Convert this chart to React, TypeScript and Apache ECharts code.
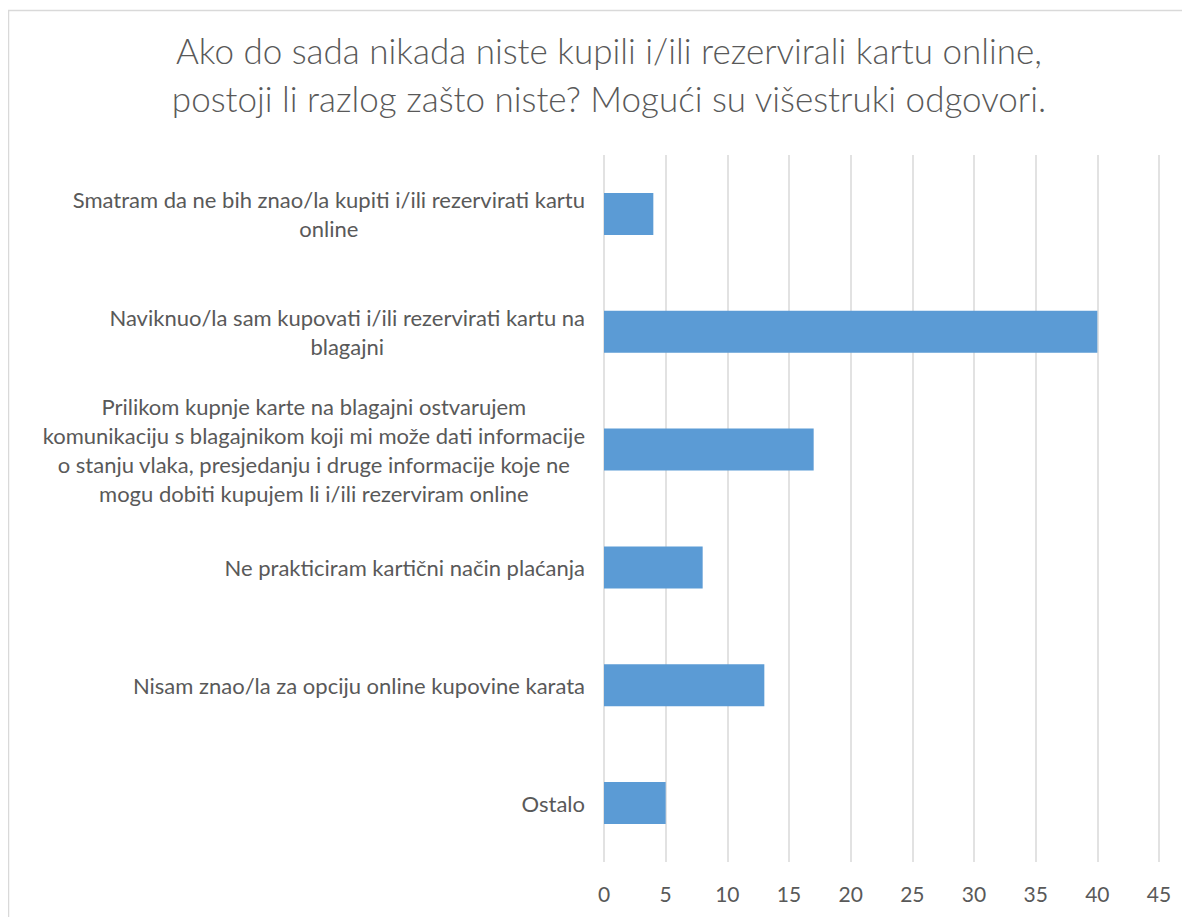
import React, { useEffect, useRef } from "react";
import * as echarts from "echarts";

const titleText =
  "Ako do sada nikada niste kupili i/ili rezervirali kartu online,\npostoji li razlog zašto niste? Mogući su višestruki odgovori.";

const categories = [
  "Smatram da ne bih znao/la kupiti i/ili rezervirati kartu\nonline",
  "Naviknuo/la sam kupovati i/ili rezervirati kartu na\nblagajni",
  "Prilikom kupnje karte na blagajni ostvarujem\nkomunikaciju s blagajnikom koji mi može dati informacije\no stanju vlaka, presjedanju i druge informacije koje ne\nmogu dobiti kupujem li i/ili rezerviram online",
  "Ne prakticiram kartični način plaćanja",
  "Nisam znao/la za opciju online kupovine karata",
  "Ostalo",
];

const values = [4, 40, 17, 8, 13, 5];

const xMin = 0;
const xMax = 45;
const xInterval = 5;

const FONT = "Lato, 'Noto Sans', sans-serif";
const TEXT_COLOR = "#595959";

export default function App() {
  const ref = useRef<HTMLDivElement>(null);

  useEffect(() => {
    if (!ref.current) return;
    const chart = echarts.init(ref.current, undefined, { renderer: "svg" });
    chart.setOption({
      animation: false,
      backgroundColor: "#ffffff",
      title: {
        text: titleText,
        left: 596,
        top: 13,
        textAlign: "center",
        textStyle: {
          fontFamily: FONT,
          fontSize: 35,
          fontWeight: 300,
          color: TEXT_COLOR,
          lineHeight: 48,
          align: "center",
        },
      },
      graphic: [
        {
          type: "rect",
          shape: { x: 0.5, y: 2.5, width: 1300, height: 1000 },
          style: { fill: "none", stroke: "#d9d9d9", lineWidth: 1.5 },
          silent: true,
        },
      ],
      grid: {
        left: 596,
        right: 31,
        top: 147,
        bottom: 55,
        containLabel: false,
      },
      xAxis: {
        type: "value",
        min: xMin,
        max: xMax,
        interval: xInterval,
        axisLine: { show: false },
        axisTick: { show: false },
        splitLine: { show: true, lineStyle: { color: "#d9d9d9", width: 1.5 } },
        axisLabel: {
          color: TEXT_COLOR,
          fontFamily: FONT,
          fontSize: 21,
          margin: 21,
        },
      },
      yAxis: {
        type: "category",
        inverse: true,
        data: categories,
        axisLine: { show: false },
        axisTick: { show: false },
        axisLabel: {
          margin: 19,
          align: "right",
          formatter: (v: string) =>
            v
              .split("\n")
              .map((l) => `{c|${l}}`)
              .join("\n"),
          rich: {
            c: {
              align: "center",
              color: TEXT_COLOR,
              fontFamily: FONT,
              fontSize: 22,
              lineHeight: 29,
            },
          },
        },
      },
      series: [
        {
          type: "bar",
          data: values,
          barWidth: 42,
          itemStyle: { color: "#5b9bd5" },
        },
      ],
    });
    return () => chart.dispose();
  }, []);

  return <div ref={ref} style={{ width: 1182, height: 909 }} />;
}
